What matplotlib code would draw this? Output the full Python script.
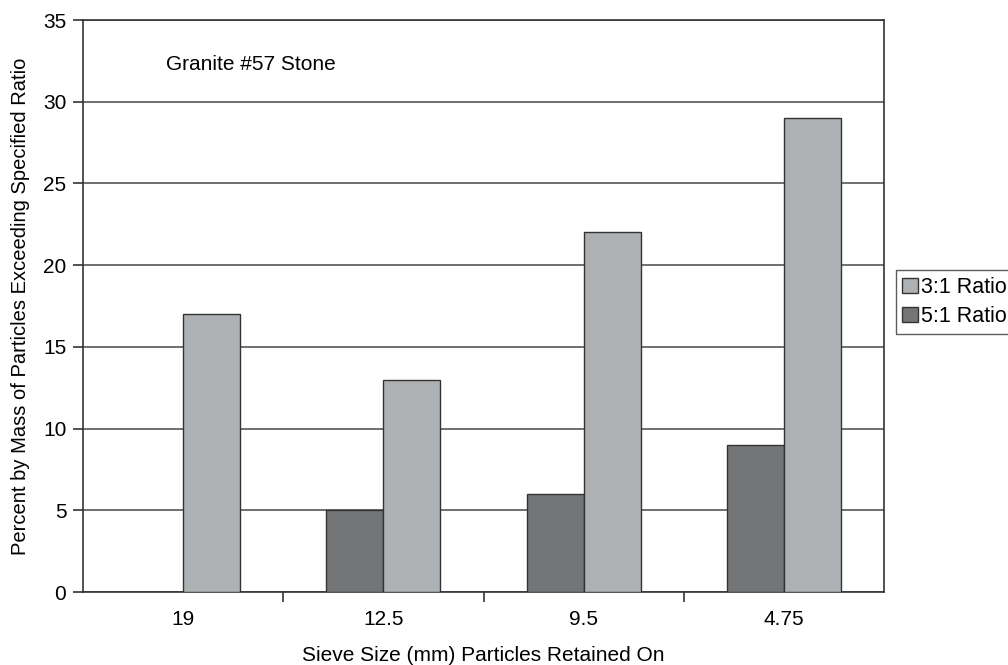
import matplotlib.pyplot as plt
import numpy as np

plt.rcParams['font.family'] = ['Liberation Sans', 'DejaVu Sans']

sizes = ['19', '12.5', '9.5', '4.75']
ratio_3to1 = [17, 13, 22, 29]
ratio_5to1 = [0, 5, 6, 9]

fig = plt.figure(figsize=(10.08, 6.65), dpi=100)
ax = fig.add_axes([83/1008, 1 - 592/665, 801/1008, 572/665])

x = np.arange(len(sizes))
w = 0.285
ax.bar(x - w/2, ratio_5to1, w, color='#747577', edgecolor='#333333', linewidth=1, zorder=3, label='5:1 Ratio')
ax.bar(x + w/2, ratio_3to1, w, color='#aeb1b3', edgecolor='#333333', linewidth=1, zorder=3, label='3:1 Ratio')

ax.set_xlim(-0.5, len(sizes) - 0.5)
ax.set_ylim(0, 35)
ax.set_yticks(range(0, 36, 5))
ax.yaxis.grid(True, color='#555555', linewidth=1.2, zorder=0)
ax.set_axisbelow(True)

ax.set_xticks(x)
ax.set_xticklabels(sizes)
ax.tick_params(axis='x', length=0, pad=13, labelsize=15)
ax.set_xticks(np.arange(0.5, len(sizes) - 0.5), minor=True)
ax.tick_params(axis='x', which='minor', length=7, width=1.2, color='#333333')
ax.tick_params(axis='y', length=7, width=1.2, color='#333333', labelsize=15, pad=5)

for s in ax.spines.values():
    s.set_color('#333333')
    s.set_linewidth(1.2)

ax.set_xlabel('Sieve Size (mm) Particles Retained On', fontsize=15, labelpad=12)
ax.set_ylabel('Percent by Mass of Particles Exceeding Specified Ratio', fontsize=14.5, labelpad=9)

ax.text(0.104, 0.923, 'Granite #57 Stone', transform=ax.transAxes, fontsize=15, va='center')

h, l = ax.get_legend_handles_labels()
leg = ax.legend(h[::-1], l[::-1], loc='center left', bbox_to_anchor=(1.015, 0.507), fontsize=15.5,
                frameon=True, fancybox=False, edgecolor='#333333', handlelength=0.7,
                handleheight=0.7, handletextpad=0.15, borderpad=0.3, labelspacing=0.4,
                borderaxespad=0)
leg.get_frame().set_linewidth(1.0)

fig.savefig('out.png', dpi=100)
